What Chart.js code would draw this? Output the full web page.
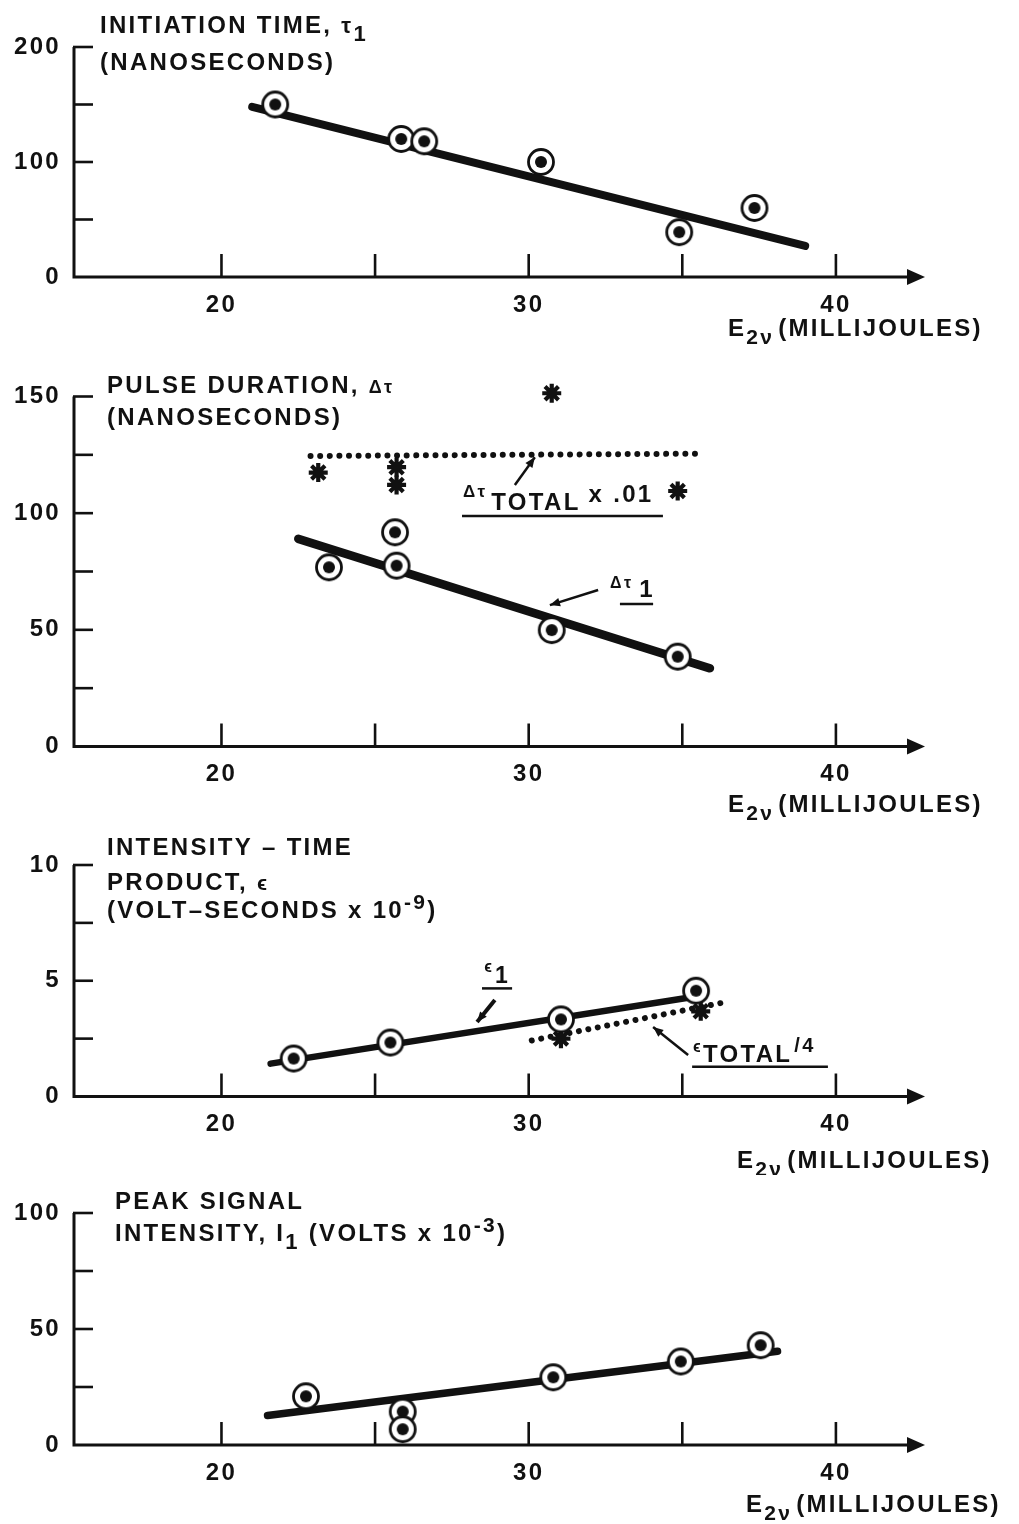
<!DOCTYPE html>
<html lang="en">
<head>
<meta charset="UTF-8">
<title>Pulse measurements vs E2ν</title>
<script src="https://cdn.jsdelivr.net/npm/chart.js@4.4.1/dist/chart.umd.min.js"></script>
<style>
  html, body { margin: 0; padding: 0; background: #fff; }
  canvas { position: absolute; left: 0; }
</style>
</head>
<body>
<canvas id="initChart" width="1019" height="345" style="top:0"></canvas>
<canvas id="pulseChart" width="1019" height="475" style="top:345px"></canvas>
<canvas id="prodChart" width="1019" height="355" style="top:820px"></canvas>
<canvas id="peakChart" width="1019" height="349" style="top:1175px"></canvas>

<script>
// ---- data (E2ν in millijoules) ----
const xTicks = [20, 25, 30, 35, 40];
const xTickLabels = [20, 30, 40];

// initiation time τ1 (ns)
const initE = [21.75, 25.85, 26.6, 30.4, 34.9, 37.35];
const initTau = [150, 120, 118, 100, 39, 60];
const initFitE = [21.0, 39.0];
const initFitTau = [148, 27];
const initYTicks = [50, 100, 150, 200];
const initYLabels = [0, 100, 200];

// pulse duration Δτ1 and Δτtotal x .01 (ns)
const pulseE = [23.5, 25.65, 25.7, 30.75, 34.85];
const pulseTau1 = [76.8, 91.8, 77.5, 49.9, 38.5];
const pulseFitE = [22.5, 35.9];
const pulseFitTau1 = [89, 33.5];
const pulseTotE = [23.15, 25.7, 25.7, 30.75, 34.85];
const pulseTotal = [117.4, 119.7, 112.1, 151.4, 109.5];
const pulseTotFitE = [22.9, 35.5];
const pulseTotFit = [124.5, 125.5];
const pulseYTicks = [25, 50, 75, 100, 125, 150];
const pulseYLabels = [0, 50, 100, 150];

// intensity-time product ε1 and εtotal/4 (V·s x 10^-9)
const prodE = [22.35, 25.5, 31.05, 35.45];
const prodEps1 = [1.64, 2.33, 3.33, 4.57];
const prodFitE = [21.6, 35.6];
const prodFitEps1 = [1.42, 4.35];
const prodTotE = [31.05, 35.6];
const prodTotal = [2.5, 3.68];
const prodTotFitE = [30.1, 36.5];
const prodTotFit = [2.42, 4.1];
const prodYTicks = [2.5, 5, 7.5, 10];
const prodYLabels = [0, 5, 10];

// peak signal intensity I1 (V x 10^-3)
const peakE = [22.75, 25.9, 25.9, 30.8, 34.95, 37.55];
const peakI1 = [21, 14.4, 6.8, 29.2, 36, 43];
const peakFitE = [21.5, 38.1];
const peakFitI1 = [12.7, 40.4];
const peakYTicks = [25, 50, 75, 100];
const peakYLabels = [0, 50, 100];

const X_MIN = 15.2, X_MAX = 42.9;
const INK = '#111';
const FONT = '"Liberation Sans", Arial, sans-serif';
const SPACING = '2.3px';

const pts = (xs, ys) => xs.map((x, i) => ({ x, y: ys[i] }));

// open circle with a dot in the middle
function ringDot() {
  const c = document.createElement('canvas');
  c.width = 32; c.height = 32;
  const g = c.getContext('2d');
  g.beginPath(); g.arc(16, 16, 12.5, 0, Math.PI * 2);
  g.fillStyle = '#fff'; g.fill();
  g.lineWidth = 2.8; g.strokeStyle = INK; g.stroke();
  g.beginPath(); g.arc(16, 16, 6, 0, Math.PI * 2);
  g.fillStyle = INK; g.fill();
  return c;
}
const RING = ringDot();

function drawRuns(ctx, x, y, runs) {
  let cx = x;
  runs.forEach(r => {
    if (r.gap) { cx += r.gap; return; }
    ctx.font = `bold ${r.size || 24}px ${FONT}`;
    ctx.fillText(r.t, cx, y + (r.dy || 0));
    cx += ctx.measureText(r.t).width;
  });
}

function arrow(ctx, x1, y1, x2, y2, head) {
  ctx.beginPath(); ctx.moveTo(x1, y1); ctx.lineTo(x2, y2); ctx.stroke();
  const a = Math.atan2(y2 - y1, x2 - x1);
  ctx.beginPath();
  ctx.moveTo(x2, y2);
  ctx.lineTo(x2 - head * Math.cos(a - 0.4), y2 - head * Math.sin(a - 0.4));
  ctx.lineTo(x2 - head * Math.cos(a + 0.4), y2 - head * Math.sin(a + 0.4));
  ctx.closePath(); ctx.fill();
}

// paper-style axes: inward ticks, arrowed x axis, hand-set titles
function paperAxes(cfg) {
  return {
    id: 'paperAxes',
    beforeDatasetsDraw(chart) {
      const { ctx, chartArea: a, scales: { x, y } } = chart;
      ctx.save();
      ctx.strokeStyle = INK; ctx.fillStyle = INK;
      ctx.lineWidth = 3; ctx.lineCap = 'butt';
      const top = y.getPixelForValue(cfg.yMax);
      ctx.beginPath();
      ctx.moveTo(a.left, top);
      ctx.lineTo(a.left, a.bottom);
      ctx.lineTo(a.right - 10, a.bottom);
      ctx.stroke();
      ctx.beginPath();
      ctx.moveTo(a.right, a.bottom);
      ctx.lineTo(a.right - 18, a.bottom - 8);
      ctx.lineTo(a.right - 18, a.bottom + 8);
      ctx.closePath(); ctx.fill();

      ctx.lineWidth = 2.6;
      cfg.yTicks.forEach(v => {
        const py = y.getPixelForValue(v);
        ctx.beginPath(); ctx.moveTo(a.left - 1, py); ctx.lineTo(a.left + 19, py); ctx.stroke();
      });
      xTicks.forEach(v => {
        const px = x.getPixelForValue(v);
        ctx.beginPath(); ctx.moveTo(px, a.bottom); ctx.lineTo(px, a.bottom - 23); ctx.stroke();
      });

      ctx.letterSpacing = SPACING;
      ctx.font = `bold 24px ${FONT}`;
      ctx.textBaseline = 'middle';
      ctx.textAlign = 'right';
      cfg.yLabels.forEach(v => ctx.fillText(String(v), a.left - 13, y.getPixelForValue(v)));
      ctx.textAlign = 'center';
      xTickLabels.forEach(v => ctx.fillText(String(v), x.getPixelForValue(v), a.bottom + 28));
      ctx.restore();
    },
    afterDatasetsDraw(chart) {
      const { ctx, chartArea: a, scales: { x, y } } = chart;
      ctx.save();
      ctx.fillStyle = INK; ctx.strokeStyle = INK;
      ctx.letterSpacing = SPACING;
      ctx.textBaseline = 'alphabetic'; ctx.textAlign = 'left';
      cfg.title.forEach(line => drawRuns(ctx, a.left + cfg.titleX, a.top + line.y, line.runs));
      drawRuns(ctx, cfg.xTitleX, a.bottom + cfg.xTitleY, [
        { t: 'E' }, { t: '2', size: 21, dy: 8 }, { t: 'ν', size: 21, dy: 8 }, { gap: 4 }, { t: '(MILLIJOULES)' }
      ]);
      (cfg.notes || []).forEach(n => {
        drawRuns(ctx, x.getPixelForValue(n.x), y.getPixelForValue(n.y), n.runs);
        ctx.lineWidth = 2.5;
        ctx.beginPath();
        ctx.moveTo(x.getPixelForValue(n.line[0]), y.getPixelForValue(n.line[2]));
        ctx.lineTo(x.getPixelForValue(n.line[1]), y.getPixelForValue(n.line[2]));
        ctx.stroke();
        ctx.lineWidth = n.arrowWidth || 2.5;
        arrow(ctx, x.getPixelForValue(n.arrow[0]), y.getPixelForValue(n.arrow[1]),
          x.getPixelForValue(n.arrow[2]), y.getPixelForValue(n.arrow[3]), 11);
      });
      ctx.restore();
    }
  };
}

function fitLine(data, width) {
  return { data, showLine: true, borderColor: INK, borderWidth: width, pointRadius: 0,
    borderCapStyle: 'round', order: 3, clip: false };
}
function dotLine(data) {
  return { data, showLine: true, borderColor: INK, borderWidth: 6, pointRadius: 0,
    borderDash: [0.01, 9.6], borderCapStyle: 'round', order: 4, clip: false };
}
function rings(data) {
  return { data, pointStyle: RING, pointRadius: 13, order: 1, clip: false };
}
function stars(data) {
  return { data, pointStyle: 'star', pointRadius: 9.5, borderWidth: 4.2, borderColor: INK,
    order: 2, clip: false };
}

function build(id, datasets, cfg, pad) {
  new Chart(document.getElementById(id), {
    type: 'scatter',
    data: { datasets },
    options: {
      responsive: false,
      animation: false,
      events: [],
      layout: { padding: { left: 74, right: 94, top: pad[0], bottom: pad[1] } },
      scales: {
        x: { type: 'linear', min: X_MIN, max: X_MAX, display: false },
        y: { type: 'linear', min: 0, max: cfg.yMax, display: false }
      },
      plugins: { legend: { display: false }, tooltip: { enabled: false } }
    },
    plugins: [paperAxes(cfg)]
  });
}

build('initChart', [
  fitLine(pts(initFitE, initFitTau), 8),
  rings(pts(initE, initTau))
], {
  yMax: 200, yTicks: initYTicks, yLabels: initYLabels, titleX: 26,
  title: [
    { y: -14, runs: [{ t: 'INITIATION TIME, ' }, { t: 'τ', size: 22 }, { t: '1', size: 22, dy: 8 }] },
    { y: 23, runs: [{ t: '(NANOSECONDS)' }] }
  ],
  xTitleX: 728, xTitleY: 59
}, [47, 68]);

build('pulseChart', [
  dotLine(pts(pulseTotFitE, pulseTotFit)),
  fitLine(pts(pulseFitE, pulseFitTau1), 8.5),
  stars(pts(pulseTotE, pulseTotal)),
  rings(pts(pulseE, pulseTau1))
], {
  yMax: 150, yTicks: pulseYTicks, yLabels: pulseYLabels, titleX: 33,
  title: [
    { y: -3.5, runs: [{ t: 'PULSE DURATION, ' }, { t: 'Δτ', size: 18 }] },
    { y: 28, runs: [{ t: '(NANOSECONDS)' }] }
  ],
  xTitleX: 728, xTitleY: 65,
  notes: [
    { x: 27.86, y: 101.4, runs: [{ t: 'Δτ', size: 17, dy: -13 }, { gap: 4 }, { t: 'TOTAL' }, { gap: 8 },
      { t: 'x .01', dy: -8 }],
      line: [27.83, 34.37, 98.8], arrow: [29.55, 112.1, 30.2, 124.0] },
    { x: 32.65, y: 64.1, runs: [{ t: 'Δτ', size: 16, dy: -9 }, { gap: 6 }, { t: '1' }],
      line: [32.97, 34.05, 61.1], arrow: [32.26, 67.1, 30.69, 60.6] }
  ]
}, [51.5, 73.5]);

build('prodChart', [
  dotLine(pts(prodTotFitE, prodTotFit)),
  fitLine(pts(prodFitE, prodFitEps1), 6.5),
  stars(pts(prodTotE, prodTotal)),
  rings(pts(prodE, prodEps1))
], {
  yMax: 10, yTicks: prodYTicks, yLabels: prodYLabels, titleX: 33,
  title: [
    { y: -10, runs: [{ t: 'INTENSITY – TIME' }] },
    { y: 25, runs: [{ t: 'PRODUCT, ' }, { t: 'ϵ', size: 21 }] },
    { y: 53, runs: [{ t: '(VOLT–SECONDS x 10' }, { t: '-9', size: 21, dy: -9 }, { t: ')' }] }
  ],
  xTitleX: 737, xTitleY: 71,
  notes: [
    { x: 28.55, y: 4.9, runs: [{ t: 'ϵ', size: 16, dy: -11 }, { gap: 1 }, { t: '1', size: 23 }],
      line: [28.48, 29.46, 4.67], arrow: [28.9, 4.17, 28.32, 3.22], arrowWidth: 4 },
    { x: 35.35, y: 1.49, runs: [{ t: 'ϵ', size: 16, dy: -10 }, { t: 'TOTAL' }, { gap: 2 },
      { t: '/4', size: 20, dy: -10 }],
      line: [35.32, 39.74, 1.29], arrow: [35.19, 1.79, 34.05, 3.0] }
  ]
}, [45, 78.5]);

build('peakChart', [
  fitLine(pts(peakFitE, peakFitI1), 7.5),
  rings(pts(peakE, peakI1))
], {
  yMax: 100, yTicks: peakYTicks, yLabels: peakYLabels, titleX: 41,
  title: [
    { y: -4, runs: [{ t: 'PEAK SIGNAL' }] },
    { y: 28, runs: [{ t: 'INTENSITY, I' }, { t: '1', size: 22, dy: 8 }, { t: ' (VOLTS x 10' },
      { t: '-3', size: 21, dy: -9 }, { t: ')' }] }
  ],
  xTitleX: 746, xTitleY: 67
}, [38, 79]);
</script>
</body>
</html>
